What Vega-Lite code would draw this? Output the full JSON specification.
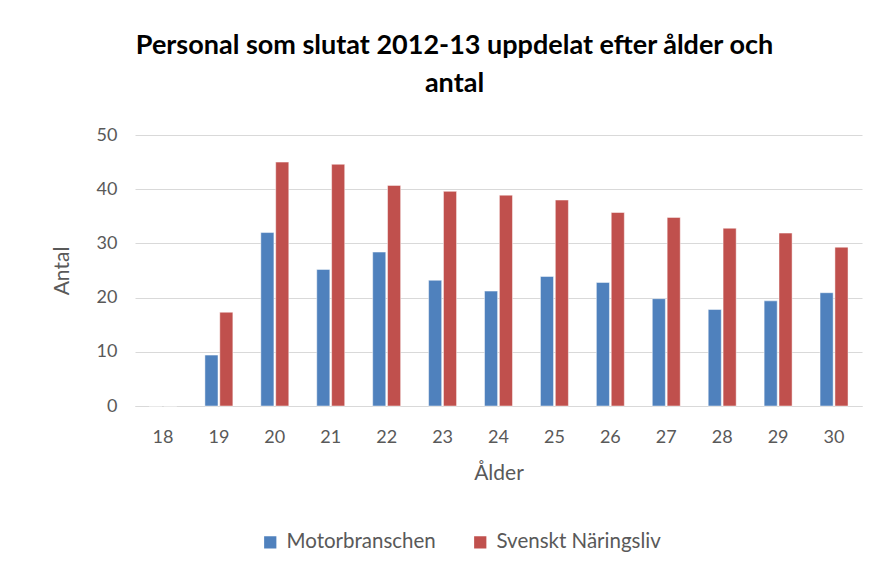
{
  "$schema": "https://vega.github.io/schema/vega-lite/v6.json",
  "width": 727,
  "height": 271,
  "autosize": {"type": "none"},
  "padding": {"left": 135, "top": 135, "right": 12, "bottom": 170},
  "background": "white",
  "title": {
    "text": ["Personal som slutat 2012-13 uppdelat efter ålder och", "antal"],
    "font": "Lato",
    "fontSize": 27,
    "fontWeight": "bold",
    "color": "#000000",
    "anchor": "middle",
    "dx": -44,
    "offset": 28,
    "lineHeight": 38
  },
  "data": {
    "values": [
      {"alder": "18", "serie": "Motorbranschen", "antal": 0},
      {"alder": "18", "serie": "Svenskt Näringsliv", "antal": 0},
      {"alder": "19", "serie": "Motorbranschen", "antal": 9.4},
      {"alder": "19", "serie": "Svenskt Näringsliv", "antal": 17.3},
      {"alder": "20", "serie": "Motorbranschen", "antal": 32.0},
      {"alder": "20", "serie": "Svenskt Näringsliv", "antal": 45.0},
      {"alder": "21", "serie": "Motorbranschen", "antal": 25.2},
      {"alder": "21", "serie": "Svenskt Näringsliv", "antal": 44.6},
      {"alder": "22", "serie": "Motorbranschen", "antal": 28.4},
      {"alder": "22", "serie": "Svenskt Näringsliv", "antal": 40.7},
      {"alder": "23", "serie": "Motorbranschen", "antal": 23.2},
      {"alder": "23", "serie": "Svenskt Näringsliv", "antal": 39.6},
      {"alder": "24", "serie": "Motorbranschen", "antal": 21.2},
      {"alder": "24", "serie": "Svenskt Näringsliv", "antal": 38.9},
      {"alder": "25", "serie": "Motorbranschen", "antal": 23.9},
      {"alder": "25", "serie": "Svenskt Näringsliv", "antal": 38.0},
      {"alder": "26", "serie": "Motorbranschen", "antal": 22.8},
      {"alder": "26", "serie": "Svenskt Näringsliv", "antal": 35.7},
      {"alder": "27", "serie": "Motorbranschen", "antal": 19.8},
      {"alder": "27", "serie": "Svenskt Näringsliv", "antal": 34.8},
      {"alder": "28", "serie": "Motorbranschen", "antal": 17.8},
      {"alder": "28", "serie": "Svenskt Näringsliv", "antal": 32.8},
      {"alder": "29", "serie": "Motorbranschen", "antal": 19.4},
      {"alder": "29", "serie": "Svenskt Näringsliv", "antal": 31.9},
      {"alder": "30", "serie": "Motorbranschen", "antal": 20.9},
      {"alder": "30", "serie": "Svenskt Näringsliv", "antal": 29.3}
    ]
  },
  "mark": {"type": "bar", "stroke": "white", "strokeWidth": 0.8, "strokeOpacity": 0.6},
  "encoding": {
    "x": {
      "field": "alder",
      "type": "nominal",
      "sort": null,
      "scale": {"paddingInner": 0.5, "paddingOuter": 0.25},
      "axis": {
        "title": "Ålder",
        "labelAngle": 0,
        "labelFont": "Lato",
        "labelFontSize": 18,
        "labelColor": "#595959",
        "labelPadding": 22,
        "ticks": false,
        "domainColor": "#d9d9d9",
        "domainWidth": 1,
        "titleFont": "Lato",
        "titleFontSize": 21,
        "titleFontWeight": "normal",
        "titleColor": "#595959",
        "titlePadding": 16
      }
    },
    "xOffset": {"field": "serie", "type": "nominal", "scale": {"paddingInner": 0.12}},
    "y": {
      "field": "antal",
      "type": "quantitative",
      "scale": {"domain": [0, 50]},
      "axis": {
        "title": "Antal",
        "values": [0, 10, 20, 30, 40, 50],
        "domain": false,
        "ticks": false,
        "gridColor": "#d9d9d9",
        "gridWidth": 1,
        "labelFont": "Lato",
        "labelFontSize": 18,
        "labelColor": "#595959",
        "labelPadding": 18,
        "titleFont": "Lato",
        "titleFontSize": 21,
        "titleFontWeight": "normal",
        "titleColor": "#595959",
        "titlePadding": 24
      }
    },
    "color": {
      "field": "serie",
      "type": "nominal",
      "scale": {"domain": ["Motorbranschen", "Svenskt Näringsliv"], "range": ["#4f81bd", "#c0504d"]},
      "legend": {
        "title": null,
        "orient": "none",
        "direction": "horizontal",
        "legendX": 125,
        "legendY": 397,
        "symbolType": "square",
        "symbolSize": 150,
        "symbolStrokeWidth": 0,
        "labelFont": "Lato",
        "labelFontSize": 20.5,
        "labelColor": "#595959",
        "labelOffset": 6,
        "labelLimit": 400,
        "columnPadding": 34
      }
    }
  },
  "config": {"view": {"stroke": null}}
}
